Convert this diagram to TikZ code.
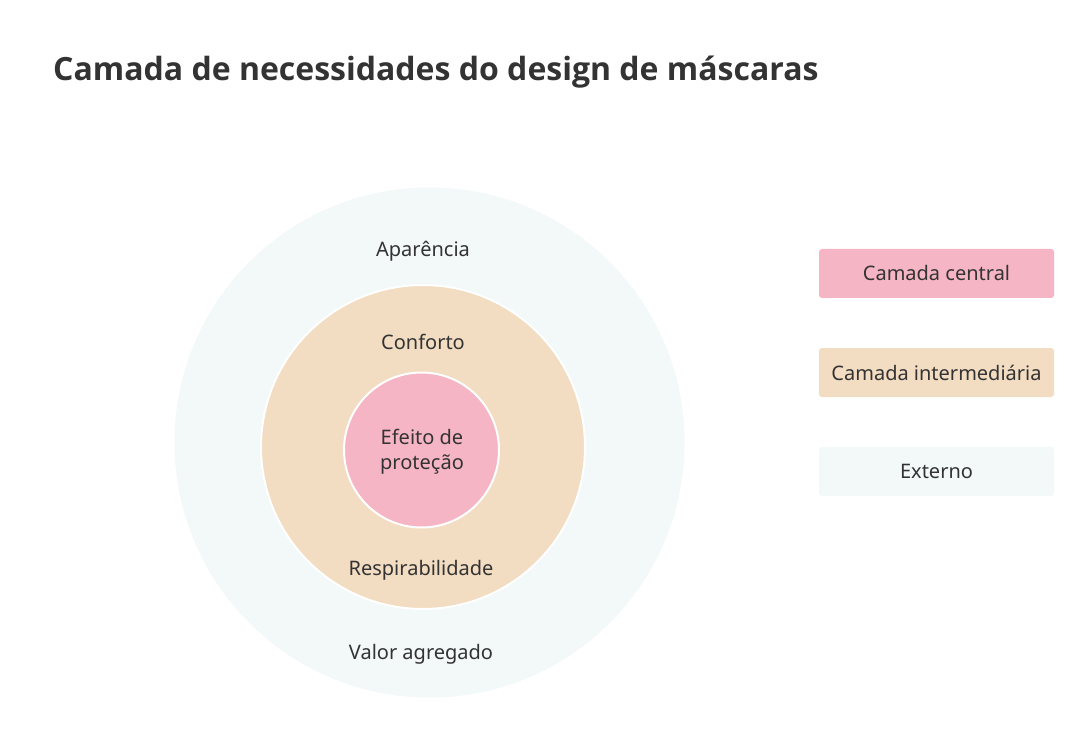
\documentclass[tikz,border=0pt]{standalone}
\usepackage{fontspec}
\setmainfont{Noto Sans}
\newfontfamily\titlefont{Open Sans}
\definecolor{txt}{HTML}{333333}
\definecolor{outerc}{HTML}{F3F8F8}
\definecolor{midc}{HTML}{F2DCC2}
\definecolor{innerc}{HTML}{F6B5C4}
\tikzset{
  ring/.style={circle, draw=white, line width=2pt, inner sep=0pt},
  lbl/.style={text=txt, font=\fontsize{20}{25}\selectfont, align=center},
  legbox/.style={rectangle, rounded corners=3pt, minimum width=235pt, minimum height=49pt, inner sep=0pt, text=txt, font=\fontsize{20}{25}\selectfont}
}
\begin{document}
\begin{tikzpicture}[x=1pt,y=-1pt]
\useasboundingbox[fill=white] (0,0) rectangle (1092,735);
\node[anchor=west, inner sep=0pt, text=txt, font=\titlefont\fontsize{32}{40}\selectfont\bfseries] (title) at (53,72) {Camada de necessidades do design de máscaras};
\node[ring, fill=outerc, draw=none, minimum size=510pt] (outer) at (429.5,442.5) {};
\node[ring, fill=midc, minimum size=324pt] (mid) at (423,447) {};
\node[ring, fill=innerc, minimum size=155pt] (inner) at (421.5,450) {};
\node[lbl] (apar) at (423,251) {Aparência};
\node[lbl] (conf) at (423,342) {Conforto};
\node[lbl] (efeito) at (422,452) {Efeito de\\proteção};
\node[lbl] (resp) at (421,570) {Respirabilidade};
\node[lbl] (valor) at (421,654) {Valor agregado};
\node[legbox, fill=innerc] (l1) at (936.5,273.5) {Camada central};
\node[legbox, fill=midc] (l2) at (936.5,372.5) {Camada intermediária};
\node[legbox, fill=outerc] (l3) at (936.5,471.5) {Externo};
\end{tikzpicture}
\end{document}
